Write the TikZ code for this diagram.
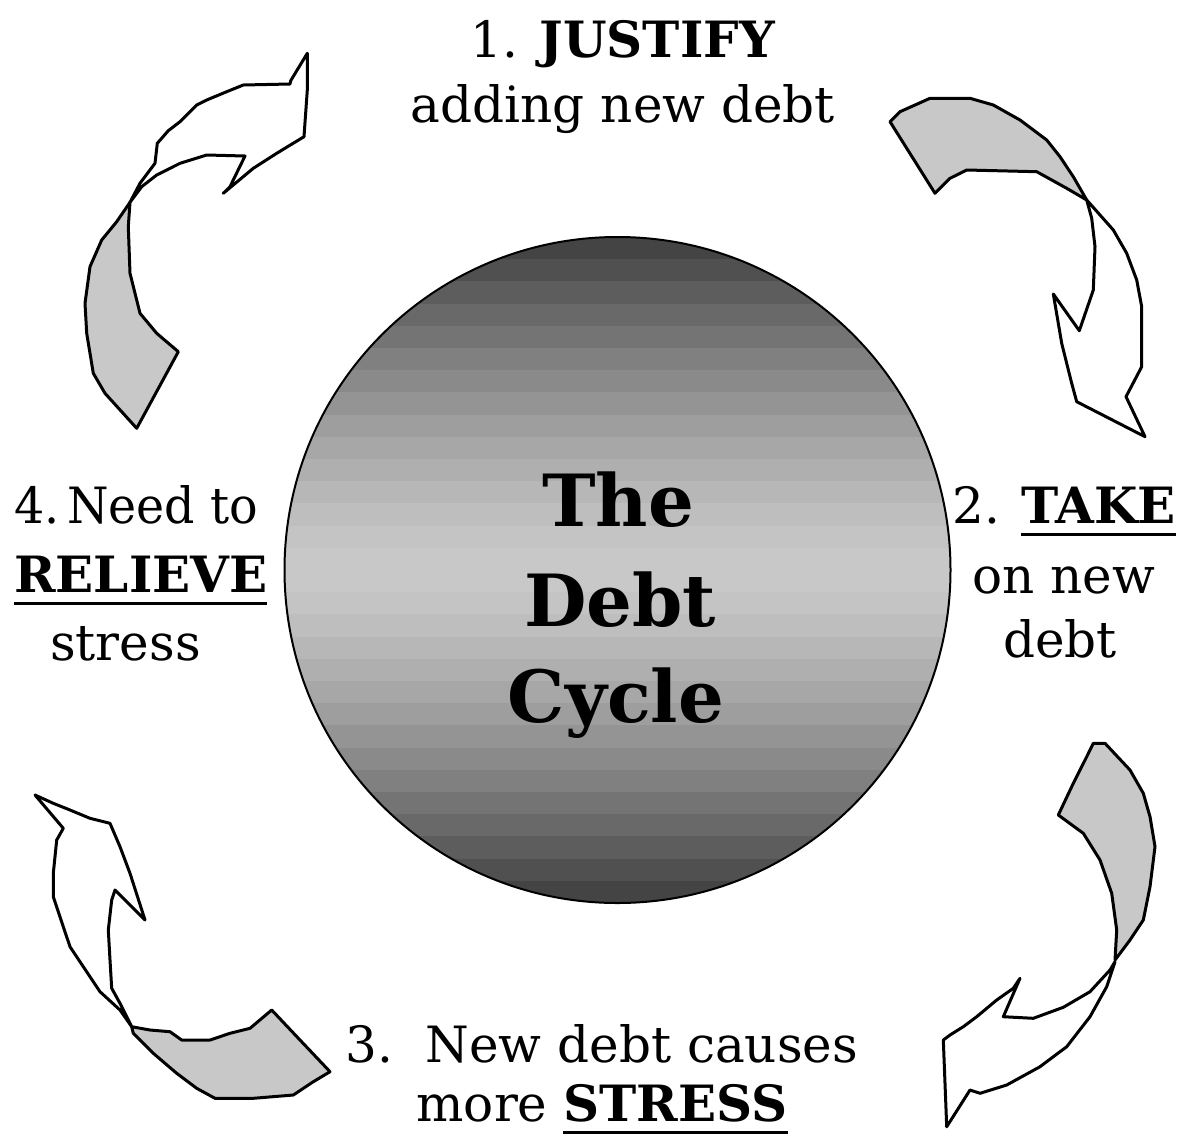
\documentclass[tikz,border=0pt]{standalone}
\usepackage{fontspec}
\setmainfont{DejaVu Serif}
\definecolor{ribbongray}{HTML}{C8C8C8}
% bold word with a thick rule drawn under it
\newcommand\ulword[1]{\setbox0\hbox{\textbf{#1}}\rlap{\rule[-13pt]{\wd0}{3pt}}\box0}
\begin{document}
\begin{tikzpicture}[x=1pt,y=-1pt,
  label/.style={inner sep=0pt,font=\fontsize{50}{60}\selectfont},
  title/.style={inner sep=0pt,font=\fontsize{72}{80}\selectfont\bfseries},
  tailpart/.style={draw=black,line width=3pt,line join=round,fill=ribbongray},
  headpart/.style={draw=black,line width=3pt,line join=round,fill=white}]
\useasboundingbox[fill=white] (0,0) rectangle (1188,1136);

% central disc with banded vertical shading
\coordinate (hub) at (617.5,570);
\begin{scope}
  \clip (hub) circle (333);
  \foreach \i in {0,...,29} {
    \pgfmathsetmacro\bandy{237+\i*22.2}
    \pgfmathsetmacro\bandt{abs(\bandy+11.1-570)/333}
    \pgfmathsetmacro\bandpct{21+55*(\bandt^1.4)}
    \fill[black!\bandpct] (280,\bandy) rectangle (960,\bandy+22.8);
  }
\end{scope}
\draw[line width=2pt] (hub) circle (333);

\node[title,anchor=base] (the)   at (618,526) {The};
\node[title,anchor=base] (debt)  at (620,626) {Debt};
\node[title,anchor=base] (cycle) at (616,722) {Cycle};

% step labels
\node[label,anchor=base] (j1) at (623,57)  {1. \textbf{JUSTIFY}};
\node[label,anchor=base] (j2) at (623,122) {adding new debt};

\node[label,anchor=base west] (t1) at (952,523) {2. \ulword{TAKE}};
\node[label,anchor=base] (t2) at (1064,593) {on new};
\node[label,anchor=base] (t3) at (1060,657) {debt};

\node[label,anchor=base] (s1) at (602,1062) {3.\ \ New debt causes};
\node[label,anchor=base] (s2) at (602,1121) {more \ulword{STRESS}};

\node[label,anchor=base west] (r1) at (14,523) {\scalebox{0.95}[1]{4.\hspace{8pt}Need to}};
\node[label,anchor=base west] (r2) at (14,592) {\ulword{RELIEVE}};
\node[label,anchor=base west] (r3) at (50,660) {stress};

% twisted ribbon arrow, upper left
\draw[tailpart] (130,202.3) -- (116.7,221.7) -- (101.7,240) -- (90,266.7) -- (85,303.3)
  -- (86.7,333.3) -- (93.3,373.3) -- (105,393.3) -- (136.7,428.3) -- (178.3,351.7)
  -- (156.7,333.3) -- (140,313.3) -- (130,273.3) -- (128.3,226.7) -- cycle;
\draw[headpart] (130,202.3) -- (140,183.3) -- (155,163.3) -- (157.3,143.3) -- (168.3,130.7)
  -- (180,121.7) -- (196.7,105) -- (206.7,100) -- (226.7,91.7) -- (243.3,85) -- (290,84)
  -- (290.7,80.7) -- (307.3,53.3) -- (307.3,90) -- (304,136.7) -- (276.7,153.3)
  -- (253.3,168.3) -- (223.3,193.3) -- (230,186.7) -- (245,156) -- (206.7,155)
  -- (180,163.3) -- (156.7,175) -- (141.7,186.7) -- cycle;

% twisted ribbon arrow, upper right
\draw[tailpart] (890,121.7) -- (900,111.7) -- (930,98.3) -- (970,98.3) -- (993.3,105)
  -- (1020,120) -- (1046.7,140) -- (1060,156.7) -- (1073.3,176.7) -- (1086.7,200)
  -- (1066.7,188.3) -- (1036.7,171.7) -- (966.7,170) -- (950,178.3) -- (935,193.3) -- cycle;
\draw[headpart] (1086.7,200) -- (1113.3,230) -- (1126.7,253.3) -- (1136.7,280)
  -- (1141.7,306.7) -- (1141.7,366.7) -- (1126,396.7) -- (1145,436.7) -- (1076.7,401.7)
  -- (1071.7,383.3) -- (1061.7,343.3) -- (1053.3,294) -- (1079.3,330.7) -- (1093.3,290)
  -- (1095,246.7) -- (1091.7,218.3) -- cycle;

% twisted ribbon arrow, lower right
\draw[tailpart] (1093.3,743.3) -- (1105,743.3) -- (1130,770) -- (1143.3,793.3) -- (1150,816.7)
  -- (1155,846.7) -- (1150,886.7) -- (1143.3,920) -- (1130,940) -- (1115,960)
  -- (1116.7,930) -- (1111.7,893.3) -- (1100,860) -- (1083.3,833.3) -- (1058.3,815)
  -- (1073.3,783.3) -- (1086.7,756.7) -- cycle;
\draw[headpart] (1115,961.7) -- (1106.7,986.7) -- (1090,1016.7) -- (1066.7,1046.7)
  -- (1040,1066.7) -- (1006.7,1085) -- (980,1093.3) -- (970,1090) -- (946.7,1126.7)
  -- (943.3,1040) -- (950,1035) -- (963.3,1026.7) -- (976.7,1016.7) -- (996.7,1000)
  -- (1013.3,988.3) -- (1020,978.3) -- (1003.3,1016.7) -- (1033.3,1018.3)
  -- (1063.3,1007.3) -- (1090,991.7) -- (1110,970) -- cycle;

% twisted ribbon arrow, lower left
\draw[tailpart] (131.7,1026.7) -- (150,1030) -- (170,1031.7) -- (181.7,1040) -- (210,1040)
  -- (230,1033.3) -- (250,1028.3) -- (271.7,1010) -- (300,1040) -- (330,1071.7)
  -- (313.3,1081.7) -- (293.3,1095) -- (253.3,1098.3) -- (215,1098.3) -- (196.7,1088.3)
  -- (176.7,1073.3) -- (153.3,1053.3) -- (133.3,1033.3) -- cycle;
\draw[headpart] (35,795) -- (53.3,803.3) -- (70,810) -- (90,818.3) -- (110,823.3)
  -- (120,846.7) -- (130,873.3) -- (145,920) -- (115,890) -- (111.7,900) -- (108.3,930)
  -- (110,960) -- (111.7,988.3) -- (120,1003.3) -- (131.7,1026.7) -- (120,1010)
  -- (100,991.7) -- (90,976.7) -- (70,946.7) -- (63.3,926.7) -- (53.3,896.7)
  -- (53.3,873.3) -- (56.7,840) -- (63.3,828.3) -- cycle;
\end{tikzpicture}
\end{document}
